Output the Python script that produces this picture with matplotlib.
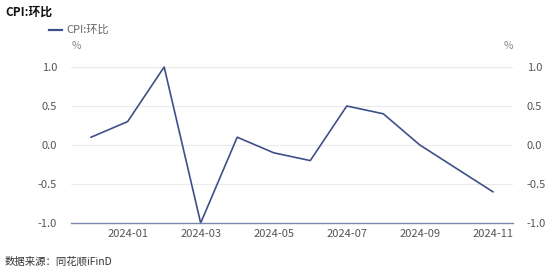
import matplotlib
matplotlib.use("Agg")
import matplotlib.pyplot as plt

plt.rcParams['font.family'] = ['Noto Sans CJK SC', 'DejaVu Sans']

months = ["2023-12", "2024-01", "2024-02", "2024-03", "2024-04", "2024-05",
          "2024-06", "2024-07", "2024-08", "2024-09", "2024-10", "2024-11"]
cpi_mom = [0.1, 0.3, 1.0, -1.0, 0.1, -0.1, -0.2, 0.5, 0.4, 0.0, -0.3, -0.6]
yticks = [-1.0, -0.5, 0.0, 0.5, 1.0]
series_name = "CPI:环比"
title = "CPI:环比"
source = "数据来源：同花顺iFinD"

line_color = "#3F5089"
tick_color = "#555555"
grid_color = "#EBEBEB"

fig = plt.figure(figsize=(5.54, 2.77), dpi=100)
ax = fig.add_axes([71/554, 1 - 223/277, (513-71)/554, (223-67)/277])
x = list(range(len(months)))
ax.plot(x, cpi_mom, color=line_color, lw=1.2, clip_on=False)
ax.set_xlim(-0.55, len(months) - 0.45)
ax.set_ylim(-1.0, 1.0)
ax.set_yticks(yticks)
ax.set_yticklabels([f"{v:.1f}" for v in yticks])
ax.set_xticks(x[1::2])
ax.set_xticklabels(months[1::2])
ax.grid(axis='y', color=grid_color, lw=0.8)
ax.set_axisbelow(True)
for s in ['top', 'left', 'right']:
    ax.spines[s].set_visible(False)
ax.spines['bottom'].set_color('#7A88AE')
ax.spines['bottom'].set_linewidth(1.0)
ax.tick_params(axis='both', length=0, labelsize=8, colors=tick_color, pad=5)
ax.tick_params(axis='y', pad=10)
ax.tick_params(axis='x', pad=4)

ax2 = ax.twinx()
ax2.set_ylim(-1.0, 1.0)
ax2.set_yticks(yticks)
ax2.set_yticklabels([f"{v:.1f}" for v in yticks])
for s in ax2.spines.values():
    s.set_visible(False)
ax2.tick_params(axis='y', length=0, labelsize=8, colors=tick_color, pad=10)

fig.text(5/554, 1 - 12/277, title, fontsize=8.5, fontweight='bold', va='center', ha='left', color='#111111')
fig.lines.append(plt.Line2D([49/554, 62/554], [1 - 30/277, 1 - 30/277], color=line_color, lw=1.6, transform=fig.transFigure))
fig.text(66/554, 1 - 30/277, series_name, fontsize=8, va='center', ha='left', color='#666666')
fig.text(76/554, 1 - 46/277, "%", fontsize=7.5, va='center', ha='center', color='#888888')
fig.text(508/554, 1 - 46/277, "%", fontsize=7.5, va='center', ha='center', color='#888888')
fig.text(5/554, 1 - 262/277, source, fontsize=7.5, va='center', ha='left', color='#333333')

fig.savefig("out.png", dpi=100)
